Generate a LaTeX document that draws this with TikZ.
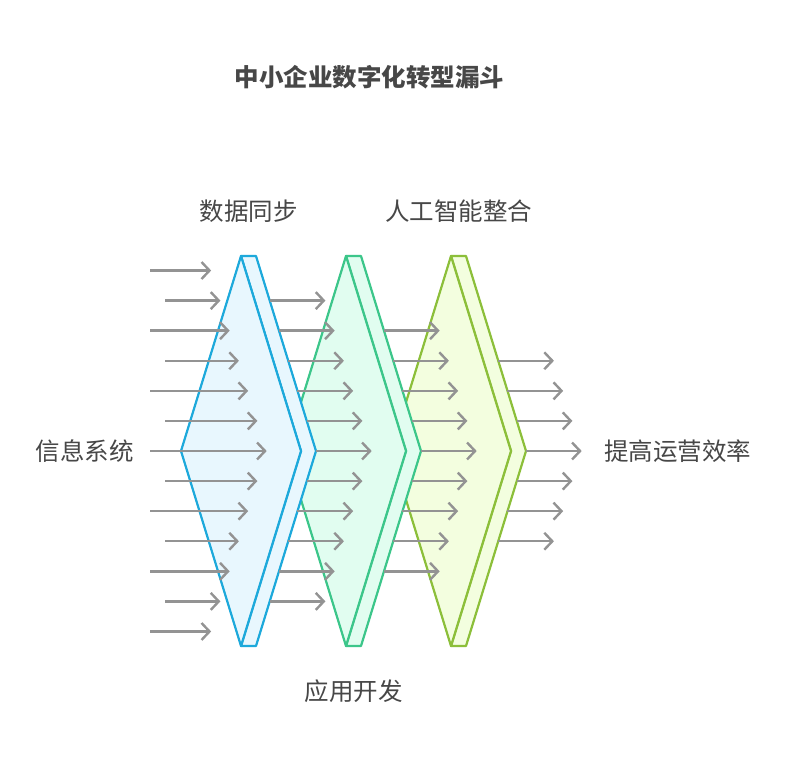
\documentclass[tikz,border=0pt]{standalone}
\usepackage{fontspec}
\setmainfont{Noto Sans CJK SC}
\usetikzlibrary{arrows.meta}
\definecolor{blueS}{HTML}{1DA9DB}
\definecolor{blueF}{HTML}{E8F7FE}
\definecolor{greenS}{HTML}{3CC68A}
\definecolor{greenF}{HTML}{E1FDF0}
\definecolor{limeS}{HTML}{8CBF3A}
\definecolor{limeF}{HTML}{F3FEDF}
\definecolor{arrC}{HTML}{939393}
\definecolor{txtC}{HTML}{474747}
\begin{document}
\begin{tikzpicture}[x=1pt,y=-1pt,
  shapestroke/.style={line width=2.2pt,line join=round},
  arr/.style={draw=arrC,line width=2.4pt,-{Straight Barb[length=8pt,width=17pt]}},
  lbl/.style={text=txtC,font=\fontsize{24.5}{28}\selectfont,inner sep=0pt},
]
\useasboundingbox (0,0) rectangle (798,768);
\fill[white] (0,0) rectangle (798,768);
% funnel stages (drawn back to front)
\foreach \c/\s/\f in {451/limeS/limeF,346/greenS/greenF,241/blueS/blueF}{
  \filldraw[shapestroke,draw=\s,fill=\f] (\c,256) -- (\c+15,256) -- (\c+75,451) -- (\c+15,646) -- (\c,646) -- (\c+60,451) -- cycle;
  \filldraw[shapestroke,draw=\s,fill=\f] (\c,256) -- (\c-60,451) -- (\c,646) -- (\c+60,451) -- cycle;
}
% arrows
\foreach \s in {0,1,2,3}{
  \pgfmathtruncatemacro\m{6-\s}
  \foreach \k in {-\m,...,\m}{
    \pgfmathsetmacro\dy{30.08*abs(\k)}
    \pgfmathsetmacro\yy{451+30.08*\k}
    \pgfmathsetmacro\cn{241+105*\s}
    \pgfmathsetmacro\xe{\cn+25.7-0.3077*\dy}
    \ifnum\s=0
      \pgfmathsetmacro\xs{isodd(abs(\k))?165:150}
    \else
      \pgfmathsetmacro\xs{\cn-30-0.3077*\dy}
    \fi
    \draw[arr] (\xs,\yy) -- (\xe,\yy);
  }
}
% labels
\node[lbl,font=\fontsize{24.5}{28}\selectfont\bfseries] (title) at (369.5,77) {中小企业数字化转型漏斗};
\node[lbl] (l1) at (248.5,211) {数据同步};
\node[lbl] (l2) at (458.5,211) {人工智能整合};
\node[lbl] (l3) at (353.5,691) {应用开发};
\node[lbl,anchor=east] (lin) at (134,451) {信息系统};
\node[lbl,anchor=west] (lout) at (604,451) {提高运营效率};
\end{tikzpicture}
\end{document}
